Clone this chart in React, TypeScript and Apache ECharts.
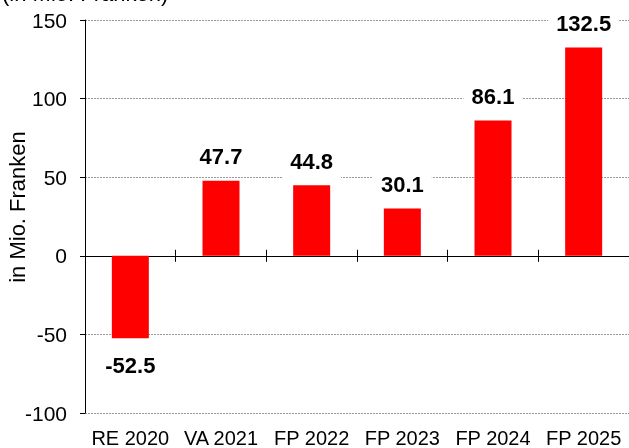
import React, { useEffect, useRef } from "react";
import * as echarts from "echarts";

const categories = ["RE 2020", "VA 2021", "FP 2022", "FP 2023", "FP 2024", "FP 2025"];
const values = [-52.5, 47.7, 44.8, 30.1, 86.1, 132.5];
const yMin = -100;
const yMax = 150;
const yInterval = 50;
const unitTitle = "(in Mio. Franken)";
const axisTitle = "in Mio. Franken";

const FONT = "'Liberation Sans', Arial, Helvetica, sans-serif";

export default function App() {
  const ref = useRef<HTMLDivElement>(null);
  useEffect(() => {
    if (!ref.current) return;
    const chart = echarts.init(ref.current, null, { renderer: "svg" });
    const data = values.map((v) => ({
      value: v,
      label:
        v < 0
          ? { position: "bottom", distance: 8 }
          : { position: "top", distance: 5 },
    }));
    const catBase = {
      type: "category",
      data: categories,
      splitLine: { show: false },
    };
    chart.setOption({
      animation: false,
      textStyle: { fontFamily: FONT },
      grid: { left: 85, top: 20, width: 547, height: 394, containLabel: false },
      xAxis: [
        {
          ...catBase,
          position: "bottom",
          axisLine: { show: true, onZero: true, onZeroAxisIndex: 0, lineStyle: { color: "#000", width: 1 } },
          axisTick: { show: true, length: 6, inside: false, lineStyle: { color: "#000" } },
          axisLabel: { show: false },
        },
        {
          ...catBase,
          position: "bottom",
          axisLine: { show: true, onZero: true, onZeroAxisIndex: 0, lineStyle: { color: "#000", width: 1 } },
          axisTick: { show: true, length: 6, inside: true, lineStyle: { color: "#000" } },
          axisLabel: { show: false },
        },
        {
          ...catBase,
          position: "bottom",
          axisLine: { show: false, onZero: false },
          axisTick: { show: false },
          axisLabel: { show: true, interval: 0, color: "#000", fontSize: 20, fontFamily: FONT, margin: 15 },
        },
      ],
      yAxis: {
        type: "value",
        min: yMin,
        max: yMax,
        interval: yInterval,
        axisLine: { show: true, lineStyle: { color: "#000", width: 1 } },
        axisTick: { show: true, length: 5, lineStyle: { color: "#000" } },
        axisLabel: { color: "#000", fontSize: 21, fontFamily: FONT, margin: 18 },
        splitLine: { show: true, lineStyle: { color: "#9a9a9a", type: [2, 1], width: 1 } },
      },
      graphic: [
        {
          type: "text",
          x: 2,
          y: -6.5,
          style: {
            text: unitTitle,
            fontSize: 22,
            fontFamily: FONT,
            fill: "#000",
            align: "left",
            verticalAlign: "middle",
          },
        },
        {
          type: "text",
          x: 17.5,
          y: 207,
          rotation: Math.PI / 2,
          style: {
            text: axisTitle,
            fontSize: 22,
            fontFamily: FONT,
            fill: "#000",
            align: "center",
            verticalAlign: "middle",
          },
        },
      ],
      series: [
        {
          type: "bar",
          xAxisIndex: 0,
          data,
          barWidth: 37,
          itemStyle: { color: "#ff0000" },
          label: {
            show: true,
            fontSize: 22,
            fontWeight: "bold",
            fontFamily: FONT,
            color: "#000",
            backgroundColor: "#fff",
            padding: [8, 8, 8, 8],
            formatter: (p: any) => Number(p.value).toFixed(1),
          },
        },
      ],
    });
    return () => chart.dispose();
  }, []);
  return (
    <div
      ref={ref}
      style={{ position: "fixed", left: 0, top: 0, width: 629, height: 448 }}
    />
  );
}
